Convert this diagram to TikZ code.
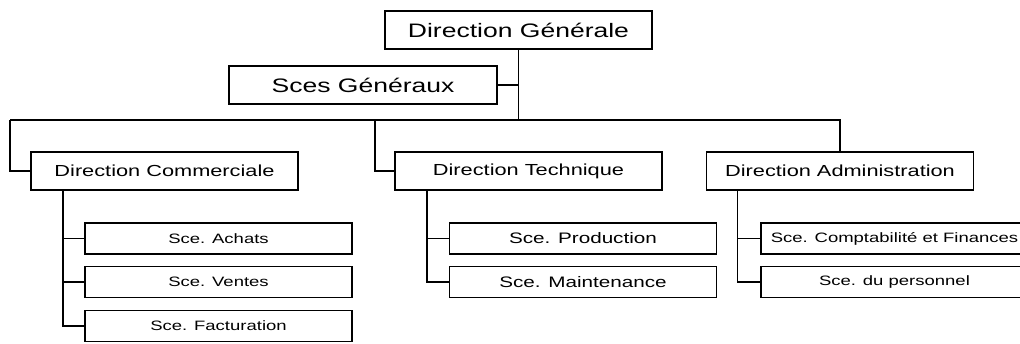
\documentclass[tikz,border=0pt]{standalone}
\usepackage{fontspec}
\setmainfont{Liberation Sans}[FakeStretch=1.36]
\usetikzlibrary{positioning}

\begin{document}
\begin{tikzpicture}[
        x=1pt, y=-1pt,
        box/.style={draw, line width=1.7pt, inner sep=0pt, minimum height=38pt},
        head/.style={box, minimum width=267pt, font=\fontsize{19.5}{22}\selectfont},
        dept/.style={box, minimum width=267pt, font=\fontsize{16}{19}\selectfont},
        sce/.style={box, minimum width=267pt, minimum height=31pt, font=\fontsize{13.6}{16}\selectfont},
        bigsce/.style={sce, font=\fontsize{15.2}{18}\selectfont},
        link/.style={line width=1.4pt}
    ]
    \useasboundingbox (0,0) rectangle (1020,343);
    \clip (0,0) rectangle (1020,343);

    % Top of the chart
    \node[head] (dg) at (518.5,30) {Direction Générale};
    \node[head, minimum width=268pt] (sg) at (363,85) {Sces Généraux};

    % Directions
    \node[dept] (dc) at (164.5,171) {Direction Commerciale};
    \node[dept] (dt) at (528.5,171) {Direction Technique};
    \node[dept] (da) at (840,171) {Direction Administration};

    % Services
    \node[sce] (achats) at (218.5,238.5) {Sce. Achats};
    \node[sce] (ventes) at (218.5,282) {Sce. Ventes};
    \node[sce] (factu) at (218.5,326) {Sce. Facturation};
    \node[bigsce] (prod) at (583,238.5) {Sce. Production};
    \node[bigsce] (maint) at (583,282) {Sce. Maintenance};
    \node[sce] (compta) at (894.5,238.5) {Sce. Comptabilité et Finances};
    \node[sce] (perso) at (894.5,282) {Sce. du personnel};

    % Main bus
    \coordinate (bus) at (518.5,120);
    \coordinate (busL) at (10,120);
    \coordinate (busM) at (375,120);
    \draw[link] (dg.south) -- (bus);
    \draw[link] (sg.east) -- (sg.east -| bus);
    \draw[link] (busL) -- (bus) -| (da.north);
    \draw[link] (busL) |- (dc.west);
    \draw[link] (busM) |- (dt.west);

    % Sub-branches
    \coordinate (dcbar) at ([xshift=33pt]dc.south west);
    \coordinate (dtbar) at ([xshift=33pt]dt.south west);
    \coordinate (dabar) at ([xshift=32pt]da.south west);
    \draw[link] (dcbar) |- (factu.west);
    \draw[link] (achats.west) -- (achats.west -| dcbar);
    \draw[link] (ventes.west) -- (ventes.west -| dcbar);
    \draw[link] (dtbar) |- (maint.west);
    \draw[link] (prod.west) -- (prod.west -| dtbar);
    \draw[link] (dabar) |- (perso.west);
    \draw[link] (compta.west) -- (compta.west -| dabar);

\end{tikzpicture}
\end{document}
